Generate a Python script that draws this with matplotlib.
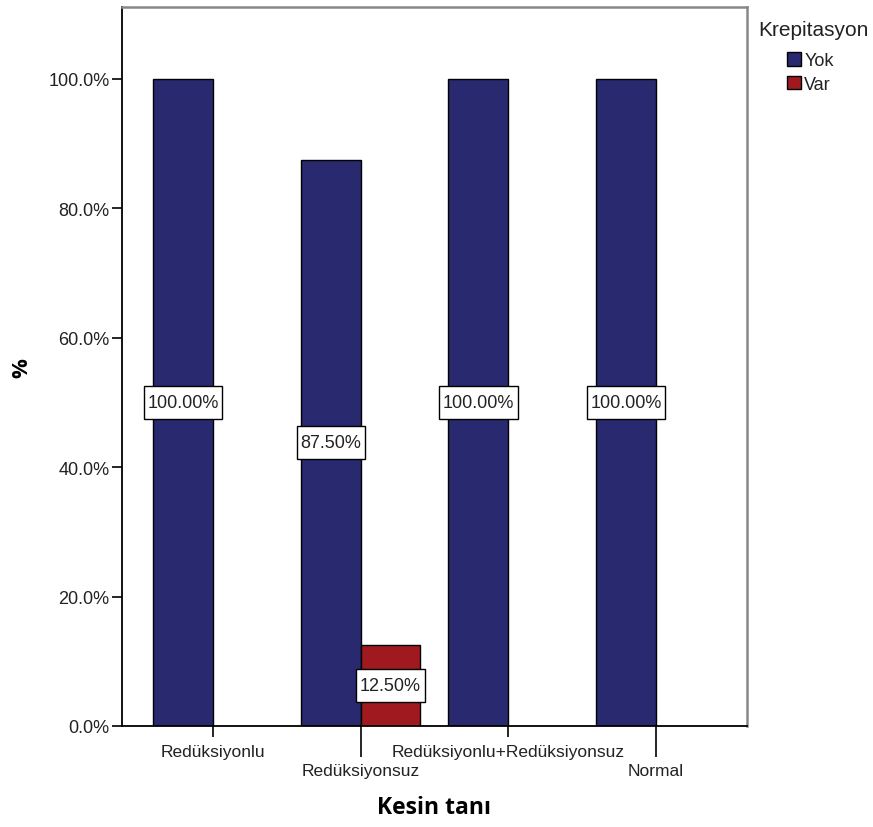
import matplotlib
matplotlib.use("Agg")
import matplotlib.pyplot as plt
import numpy as np
from matplotlib.patches import Patch
from matplotlib.path import Path

categories = ["Redüksiyonlu", "Redüksiyonsuz", "Redüksiyonlu+Redüksiyonsuz", "Normal"]
series_names = ["Yok", "Var"]
yok = [100.0, 87.5, 100.0, 100.0]
var = [0.0, 12.5, 0.0, 0.0]
yticks = [0, 20, 40, 60, 80, 100]

colors = ["#29296F", "#A0191E"]
FONT = ["Liberation Sans", "DejaVu Sans"]
plt.rcParams['font.family'] = FONT

fig = plt.figure(figsize=(8.73, 8.28), dpi=100)
ax = fig.add_axes([122/873, 1-727/828, (746.5-122)/873, (727-7.5)/828])

x = np.arange(len(categories))
w = 0.405
ax.bar(x - w/2, yok, w, color=colors[0], edgecolor="black", linewidth=1.0, zorder=2)
var_bars_x = [xi for xi, v in zip(x, var) if v > 0]
var_vals = [v for v in var if v > 0]
ax.bar(np.array(var_bars_x) + w/2, var_vals, w, color=colors[1], edgecolor="black", linewidth=1.0, zorder=2)


def rect_box(x0, y0, width, height, mutation_size):
    padx = 0.2 * mutation_size
    pady = 0.44 * mutation_size
    x0 -= padx
    y0 -= pady
    w_ = width + 2 * padx
    h_ = height + 2 * pady
    return Path([(x0, y0), (x0 + w_, y0), (x0 + w_, y0 + h_), (x0, y0 + h_), (x0, y0)], closed=True)


def lab(xc, v):
    ax.text(xc, v/2, f"{v:.2f}%", ha="center", va="center", fontsize=13, zorder=3,
            color="#222222",
            bbox=dict(boxstyle=rect_box, fc="white", ec="black", lw=1.0))

for xi, v in zip(x, yok):
    if v > 0:
        lab(xi - w/2, v)
for xi, v in zip(x, var):
    if v > 0:
        lab(xi + w/2, v)

ax.set_xlim(-0.615, 3.613)
ax.set_ylim(0, 111.2)
ax.set_yticks(yticks)
ax.set_yticklabels([f"{t:.1f}%" for t in yticks], fontsize=13, color="#222222")
ax.tick_params(axis="y", direction="out", length=7, width=1.2, pad=2)

ax.set_xticks(x[::2])
ax.set_xticklabels(categories[::2], fontsize=12.5, color="#222222")
ax.set_xticks(x[1::2], minor=True)
ax.set_xticklabels(categories[1::2], minor=True, fontsize=12.5, color="#222222")
ax.tick_params(axis="x", which="major", direction="out", length=8, width=1.2, pad=5)
ax.tick_params(axis="x", which="minor", direction="out", length=22, width=1.2, pad=5)

for s in ["left", "bottom"]:
    ax.spines[s].set_color("black")
    ax.spines[s].set_linewidth(1.3)
for s in ["top", "right"]:
    ax.spines[s].set_color("#888888")
    ax.spines[s].set_linewidth(1.8)

ax.set_xlabel("Kesin tanı", fontsize=16.5, fontweight="bold", family=["Open Sans", "DejaVu Sans"])
ax.xaxis.set_label_coords(0.5, -(808-727)/719.5, transform=ax.transAxes)
ax.xaxis.label.set_va("center")
ax.set_ylabel("%", fontsize=16, fontweight="bold", family=["Open Sans", "DejaVu Sans"])
ax.yaxis.set_label_coords((22-122)/624.5, (727-368)/719.5, transform=ax.transAxes)
ax.yaxis.label.set_va("center")

fig.text(813/873, 1-30/828, "Krepitasyon", ha="center", va="center", fontsize=15, color="#222222")
handles = [Patch(facecolor=c, edgecolor="black", linewidth=1.0) for c in colors]
leg = fig.legend(handles, series_names, loc="upper left",
                 bbox_to_anchor=(787/873, 1-53/828), frameon=False, fontsize=13,
                 handlelength=0.8, handleheight=0.8,
                 handletextpad=0.15, labelspacing=0.36, borderpad=0, borderaxespad=0)
for t in leg.get_texts():
    t.set_color("#222222")

fig.savefig("out.png", dpi=100)
